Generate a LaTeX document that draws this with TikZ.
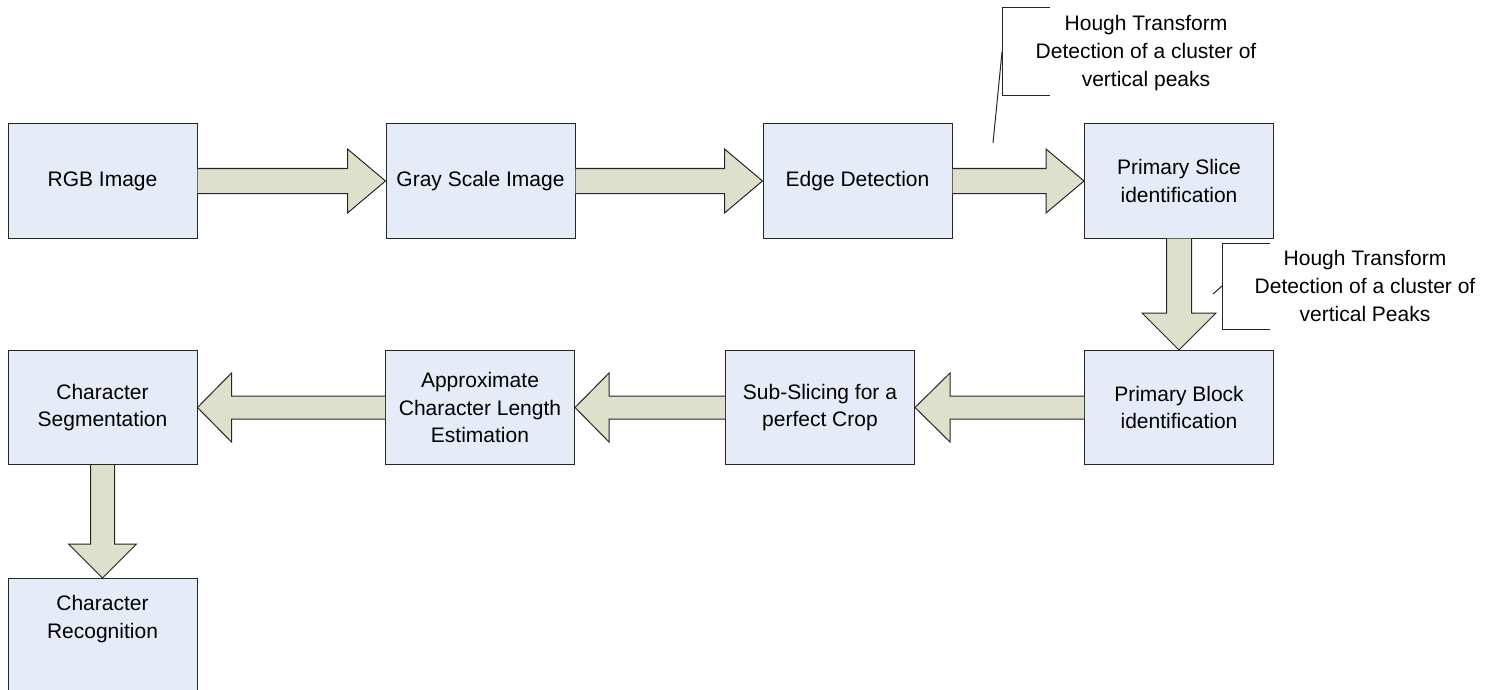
\documentclass[tikz,border=0pt]{standalone}
\usepackage{fontspec}
\setmainfont{Liberation Sans}
\usetikzlibrary{calc}
\definecolor{boxfill}{HTML}{E6ECF7}
\definecolor{arrfill}{HTML}{DDE1CB}
\newcommand{\blkright}[5]{% from, to, shaft half, head half, head length
  \draw[blk] ($(#1.east)+(0,-#3)$) -- ($(#2.west)+(-#5,-#3)$) -- ($(#2.west)+(-#5,-#4)$) -- (#2.west)
    -- ($(#2.west)+(-#5,#4)$) -- ($(#2.west)+(-#5,#3)$) -- ($(#1.east)+(0,#3)$);}
\newcommand{\blkleft}[5]{%
  \draw[blk] ($(#1.west)+(0,-#3)$) -- ($(#2.east)+(#5,-#3)$) -- ($(#2.east)+(#5,-#4)$) -- (#2.east)
    -- ($(#2.east)+(#5,#4)$) -- ($(#2.east)+(#5,#3)$) -- ($(#1.west)+(0,#3)$);}
\newcommand{\blkdown}[5]{%
  \draw[blk] ($(#1.south)+(-#3,0)$) -- ($(#2.north)+(-#3,-#5)$) -- ($(#2.north)+(-#4,-#5)$) -- (#2.north)
    -- ($(#2.north)+(#4,-#5)$) -- ($(#2.north)+(#3,-#5)$) -- ($(#1.south)+(#3,0)$);}
\begin{document}
\begin{tikzpicture}[x=0.5pt,y=-0.5pt,
  box/.style={draw=black!85, fill=boxfill, line width=0.5pt, minimum width=94.5pt, minimum height=57pt,
    align=center, font=\fontsize{10.5}{13.8}\selectfont, inner sep=0pt},
  blk/.style={draw=black!85, fill=arrfill, line width=0.5pt, line join=miter},
  lbl/.style={align=center, font=\fontsize{10.5}{13.8}\selectfont, inner sep=0pt},
  lead/.style={draw=black!85, line width=0.5pt}]
\useasboundingbox (0,0) rectangle (1494,690);

% row 1
\node[box] (rgb) at (102.5,181) {RGB Image};
\node[box] (gray) at (480.5,181) {Gray Scale Image};
\node[box] (edge) at (857.5,181) {Edge Detection};
\node[box] (pslice) at (1179,181) {Primary Slice\\identification};
% row 2
\node[box] (cseg) at (102.5,407.5) {Character\\Segmentation};
\node[box] (approx) at (480,407.5) {Approximate\\Character Length\\Estimation};
\node[box] (sub) at (820,407.5) {Sub-Slicing for a\\perfect Crop};
\node[box] (pblock) at (1179,407.5) {Primary Block\\identification};
% row 3
\node[box, anchor=north, minimum height=62pt] (crec) at (102.5,578) {};
\node[lbl] (crect) at (102.5,619) {Character\\Recognition};

% block arrows
\blkright{rgb}{gray}{12.5}{32}{38}
\blkright{gray}{edge}{12.5}{32}{38}
\blkright{edge}{pslice}{12.5}{32}{38}
\blkdown{pslice}{pblock}{12.5}{37}{37}
\blkleft{pblock}{sub}{11.5}{34.5}{35}
\blkleft{sub}{approx}{11.5}{34.5}{34}
\blkleft{approx}{cseg}{11.5}{34.5}{34}
\blkdown{cseg}{crec}{12}{34}{34}

% callout 1
\coordinate (b1t) at (1050,8);
\coordinate (b1a) at (1002,8);
\coordinate (b1b) at (1002,96);
\coordinate (b1c) at (1050,96);
\coordinate (b1m) at (1002,52);
\coordinate (b1e) at (993,143);
\draw[lead] (b1t) -- (b1a) -- (b1b) -- (b1c);
\draw[lead] (b1m) -- (b1e);
\node[lbl] (c1) at (1146,53) {Hough Transform\\Detection of a cluster of\\vertical peaks};

% callout 2
\coordinate (b2t) at (1270,243);
\coordinate (b2a) at (1222,243);
\coordinate (b2b) at (1222,329);
\coordinate (b2c) at (1270,329);
\coordinate (b2m) at (1222,286);
\coordinate (b2e) at (1213,294);
\draw[lead] (b2t) -- (b2a) -- (b2b) -- (b2c);
\draw[lead] (b2m) -- (b2e);
\node[lbl] (c2) at (1365,286) {Hough Transform\\Detection of a cluster of\\vertical Peaks};
\end{tikzpicture}
\end{document}
